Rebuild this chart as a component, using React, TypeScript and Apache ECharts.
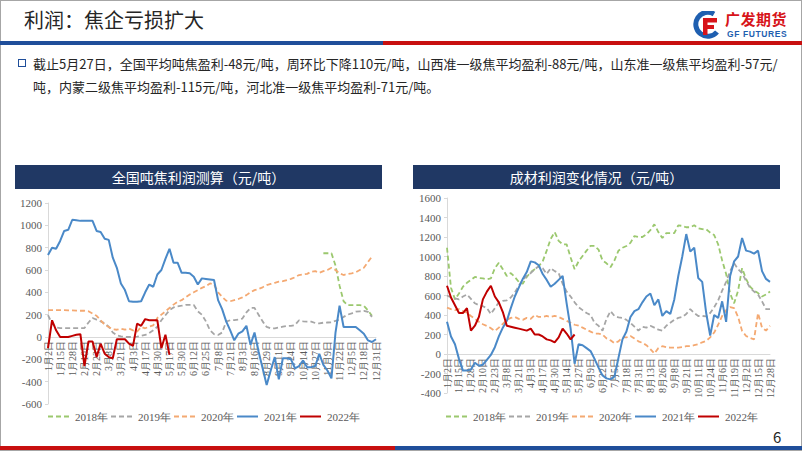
import React, { useEffect, useRef } from "react";
import * as echarts from "echarts";

// ---------- tick labels ----------
const leftTicks = ["1月2日","1月15日","1月28日","2月10日","2月23日","3月8日","3月21日","4月3日","4月17日","4月30日","5月17日","5月30日","6月12日","6月25日","7月8日","7月21日","8月3日","8月16日","8月29日","9月11日","9月24日","10月14日","10月27日","11月9日","11月22日","12月5日","12月18日","12月31日"];
const rightTicks = ["1月2日","1月15日","1月28日","2月10日","2月23日","3月8日","3月21日","4月3日","4月17日","4月30日","5月14日","5月27日","6月9日","6月22日","7月5日","7月18日","7月31日","8月13日","8月26日","9月8日","9月21日","10月11日","10月24日","11月6日","11月19日","12月2日","12月15日","12月28日"];
const SUB = 3; // samples per tick interval

const seriesNames = ["2018年","2019年","2020年","2021年","2022年"];

// ---------- left chart: 全国吨焦利润测算 ----------
const left2018Start = 68;
const left2018 = [750,750,750,640,460,320,285,285,285,285,280,240,190];
const left2019 = [195,120,85,80,80,80,80,80,80,80,
  130,170,155,140,122,92,40,15,5,0,0,0,3,10,18,35,60,92,150,195,240,265,275,280,287,287,287,230,200,140,60,25,18,40,137,150,152,155,165,220,260,260,200,140,90,78,78,85,92,98,100,107,150,140,137,137,125,122,128,130,131,145,155,180,200,212,227,230,233,225,180];
const left2020 = [240,240,240,240,240,238,238,236,235,235,
  230,210,190,150,110,90,70,65,75,65,75,60,48,90,78,93,105,
  170,200,230,260,290,315,330,355,380,400,420,440,455,480,470,400,360,325,320,
  330,340,355,375,400,420,430,445,465,475,485,495,500,510,520,535,555,560,565,585,590,575,590,600,620,600,570,555,565,570,580,600,620,670,720];
const left2021 = [735,800,790,860,950,960,1050,1045,1040,1040,1040,1040,950,940,880,870,710,620,480,420,320,315,315,320,400,470,450,560,600,700,790,665,665,575,575,570,540,470,525,520,515,510,
  330,250,140,60,-30,30,50,100,-70,40,-130,-280,-430,-300,-180,-380,-190,-190,-200,-280,-260,-210,-270,-270,-260,-150,-250,-300,-370,40,280,90,90,90,90,60,30,-30,-45,-20];
const left2022 = [-100,150,60,0,0,0,10,20,25,-260,-40,-40,-180,-60,-150,-180,-190,-20,-20,-20,-60,-80,120,100,160,150,150,150,-100,20,-160];

// ---------- right chart: 成材利润变化情况 ----------
const right2018 = [1090,680,560,620,690,730,760,790,780,775,
  766,775,880,935,870,800,830,790,740,720,
  790,840,870,900,950,1060,1180,1250,1160,1125,
  1125,990,870,950,1005,1060,1110,1110,1070,960,
  930,890,960,1060,1090,1108,1140,1210,1200,1200,
  1228,1270,1330,1250,1190,1240,1240,1240,1320,1314,
  1300,1300,1320,1290,1280,1279,1245,1220,1125,960,
  820,620,520,650,880,770,690,650,625,590,610,640];
const right2019 = [600,580,570,560,590,610,565,520,500,490,
  470,410,470,530,545,550,580,630,700,760,
  800,830,870,900,880,820,880,850,830,720,
  640,590,530,480,450,420,400,320,290,240,
  360,440,390,375,370,350,320,280,240,280,
  270,290,270,250,240,290,320,350,370,380,
  410,460,420,390,390,385,420,480,550,650,
  740,850,930,870,830,750,680,640,610,540,460,460];
const right2020 = [475,460,450,460,440,424,390,360,330,305,
  287,265,236,270,310,350,370,380,360,350,
  370,360,400,380,380,390,380,390,380,360,
  340,320,300,290,270,250,230,210,210,200,
  160,140,110,130,170,170,185,160,130,115,
  90,50,5,60,80,70,65,65,65,70,
  80,80,90,100,120,135,170,220,300,390,
  450,480,470,380,236,185,165,150,420,270,240,290];
const right2021 = [330,180,100,-50,-170,-170,-160,-90,-120,-110,
  -60,-10,70,180,270,340,470,590,680,770,
  840,950,940,910,820,760,690,720,760,800,
  520,260,-100,100,90,60,30,-50,-140,-220,
  -250,-260,-230,-40,150,230,380,440,460,530,
  590,620,500,560,390,440,410,560,800,1000,
  1230,1050,1090,780,740,420,190,400,370,540,
  330,800,950,1000,1190,1060,1050,1030,1060,850,770,740];
const right2022 = [700,580,500,420,420,470,240,290,380,560,
  640,700,590,530,430,290,280,270,260,250,
  240,260,200,200,180,150,140,120,170,260,210,150,200];

const colors = ["#9BC86E", "#A6A6A6", "#F4A972", "#4A89C8", "#C00000"];
const DASH_ICON = "path://M0,0h5v2h-5z M8,0h5v2h-5z M16,0h5v2h-5z";
const SOLID_ICON = "path://M0,0h21v2h-21z";

function buildCats(ticks: string[]) {
  const out: string[] = [];
  ticks.forEach((t, i) => {
    out.push(t);
    if (i < ticks.length - 1) for (let k = 1; k < SUB; k++) out.push(t + "#" + k);
  });
  return out;
}

function padStart(arr: number[], start: number) {
  const out: (number | null)[] = [];
  for (let i = 0; i < start; i++) out.push(null);
  return out.concat(arr);
}

const serif = "'Liberation Serif', 'Times New Roman', serif";

function makeSeries(datas: (number | null)[][], idx: number) {
  return datas.map((d, i) => ({
    name: seriesNames[i],
    type: "line",
    xAxisIndex: idx,
    yAxisIndex: idx,
    data: d,
    symbol: "none",
    connectNulls: false,
    lineStyle: {
      color: colors[i],
      width: i >= 3 ? 2 : 1.8,
      type: i >= 3 ? "solid" : [5, 3],
    },
    itemStyle: { color: colors[i] },
    z: i >= 3 ? 3 + i : 2,
  }));
}

// place the category axis on the zero line: offset upward by the zero position
function xAxis(ticks: string[], gridIndex: number, min: number, max: number, height: number) {
  const zeroOffset = -Math.round((height * (0 - min)) / (max - min));
  return {
    type: "category",
    gridIndex,
    boundaryGap: false,
    data: buildCats(ticks),
    offset: zeroOffset,
    axisLine: { onZero: false, lineStyle: { color: "#D9D9D9", width: 1 } },
    axisTick: { show: false },
    splitLine: { show: false },
    axisLabel: {
      interval: SUB - 1,
      rotate: 90,
      fontFamily: serif,
      fontSize: 10,
      color: "#595959",
      margin: 4,
      formatter: (v: string) => (v.indexOf("#") >= 0 ? "" : v),
    },
  };
}

function yAxis(min: number, max: number, gridIndex: number) {
  return {
    type: "value",
    gridIndex,
    min,
    max,
    interval: 200,
    axisLine: { show: true, lineStyle: { color: "#D9D9D9" } },
    axisTick: { show: true, length: 3, lineStyle: { color: "#D9D9D9" } },
    splitLine: { show: false },
    axisLabel: { fontFamily: serif, fontSize: 11, color: "#595959", margin: 6, formatter: (v: number) => String(v) },
  };
}

function legend(left: number) {
  return {
    left,
    top: 406,
    itemWidth: 21,
    itemHeight: 2,
    itemGap: 3,
    data: seriesNames.map((n, i) => ({ name: n, icon: i >= 3 ? SOLID_ICON : DASH_ICON })),
    textStyle: { fontFamily: serif, fontSize: 11, color: "#595959", padding: [0, 0, 0, 1] },
  };
}

const LEFT_GRID = { left: 48, top: 203, width: 328, height: 201 };
const RIGHT_GRID = { left: 447, top: 198, width: 323, height: 195 };

export default function App() {
  const ref = useRef<HTMLDivElement>(null);
  useEffect(() => {
    if (!ref.current) return;
    const chart = echarts.init(ref.current, undefined, { renderer: "svg" });
    const leftData = [padStart(left2018, left2018Start), left2019, left2020, left2021, left2022];
    const rightData = [right2018, right2019, right2020, right2021, right2022];
    chart.setOption({
      animation: false,
      grid: [LEFT_GRID, RIGHT_GRID],
      xAxis: [xAxis(leftTicks, 0, -600, 1200, LEFT_GRID.height), xAxis(rightTicks, 1, -400, 1600, RIGHT_GRID.height)],
      yAxis: [yAxis(-600, 1200, 0), yAxis(-400, 1600, 1)],
      legend: [legend(43), legend(441)],
      series: [...makeSeries(leftData, 0), ...makeSeries(rightData, 1)],
      graphic: [
        { type: "rect", shape: { x: 15, y: 165, width: 367, height: 24 }, style: { fill: "#203864" } },
        { type: "text", x: 198.5, y: 177, style: { text: "全国吨焦利润测算（元/吨）", fill: "#fff", font: "14px 'Noto Sans CJK SC'", textAlign: "center", textVerticalAlign: "middle" } },
        { type: "rect", shape: { x: 413, y: 165, width: 367, height: 24 }, style: { fill: "#203864" } },
        { type: "text", x: 596.5, y: 177, style: { text: "成材利润变化情况（元/吨）", fill: "#fff", font: "14px 'Noto Sans CJK SC'", textAlign: "center", textVerticalAlign: "middle" } },
      ],
    });
    return () => chart.dispose();
  }, []);

  const cjk = "'Noto Sans CJK SC', 'Noto Sans', sans-serif";
  return (
    <div style={{ position: "fixed", left: 0, top: 0, width: 802, height: 451, background: "#fff", overflow: "hidden", fontFamily: cjk }}>
      <div ref={ref} style={{ position: "absolute", left: 0, top: 0, width: 802, height: 451 }} />
      <div style={{ position: "absolute", left: 0, top: 0, width: 802, height: 451, pointerEvents: "none" }}>
        <div style={{ position: "absolute", left: 0, top: 0, width: 800, height: 449, border: "1px solid #A6A6A6" }} />
        <div style={{ position: "absolute", left: 24, top: 6, fontSize: 20, lineHeight: "28px", color: "#262626", whiteSpace: "nowrap" }}>利润：焦企亏损扩大</div>
        {/* logo */}
        <svg style={{ position: "absolute", left: 692, top: 11 }} width={30} height={28} viewBox="0 0 30 28">
          <path d="M22 3 A12 12 0 1 0 25 21" stroke="#1F5FB0" strokeWidth={5} fill="none" />
          <rect x={11} y={7} width={14} height={4.5} fill="#D7141A" />
          <rect x={11} y={7} width={4.5} height={17} fill="#D7141A" />
          <rect x={11} y={14} width={11} height={4} fill="#D7141A" />
        </svg>
        <div style={{ position: "absolute", left: 725, top: 10, fontSize: 15, fontWeight: 700, color: "#D7141A", lineHeight: "17px", letterSpacing: 0.5, whiteSpace: "nowrap" }}>广发期货</div>
        <div style={{ position: "absolute", left: 727, top: 30, fontSize: 8.5, fontWeight: 700, color: "#1F5FB0", lineHeight: "9px", letterSpacing: 0.6, whiteSpace: "nowrap", fontFamily: "'Liberation Sans', Arial, sans-serif" }}>GF FUTURES</div>
        {/* top band */}
        <div style={{ position: "absolute", left: 0, top: 41, width: 383, height: 4, background: "#1F4E9A" }} />
        <div style={{ position: "absolute", left: 383, top: 41, width: 419, height: 4, background: "#C80F0F" }} />
        {/* bullet + text */}
        <div style={{ position: "absolute", left: 18, top: 59, width: 6, height: 6, border: "1.5px solid #1F4E9A" }} />
        <div style={{ position: "absolute", left: 33, top: 52, fontSize: 13, lineHeight: "23px", color: "#262626", whiteSpace: "nowrap" }}>
          <div>截止5月27日，全国平均吨焦盈利-48元/吨，周环比下降110元/吨，山西准一级焦平均盈利-88元/吨，山东准一级焦平均盈利-57元/</div>
          <div>吨，内蒙二级焦平均盈利-115元/吨，河北准一级焦平均盈利-71元/吨。</div>
        </div>
        {/* page number */}
        <div style={{ position: "absolute", left: 773, top: 428, fontSize: 15, lineHeight: "18px", color: "#262626" }}>6</div>
        {/* bottom band */}
        <div style={{ position: "absolute", left: 0, top: 446, width: 395, height: 4, background: "#C80F0F" }} />
        <div style={{ position: "absolute", left: 395, top: 446, width: 407, height: 4, background: "#1F4E9A" }} />
      </div>
    </div>
  );
}
